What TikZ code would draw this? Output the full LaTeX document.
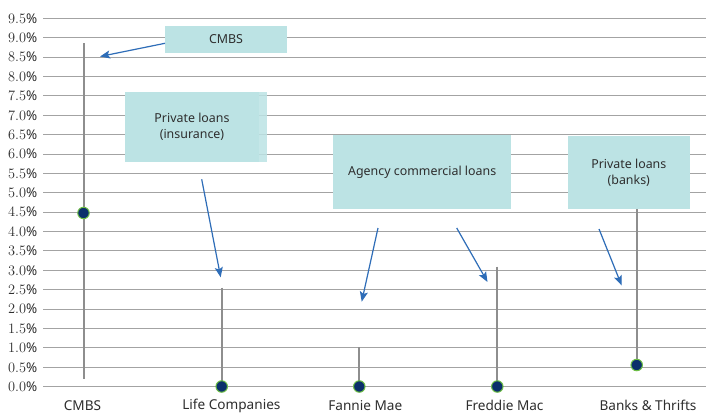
\documentclass[tikz,border=0pt]{standalone}
\usepackage{fontspec}
\setmainfont{Noto Sans}
\usetikzlibrary{arrows.meta}
\definecolor{gridc}{HTML}{A3A3A3}
\definecolor{stemc}{HTML}{8E8E8E}
\definecolor{boxc}{HTML}{BCE3E4}
\definecolor{txtc}{HTML}{2E2E2E}
\definecolor{arrc}{HTML}{2E6DB8}
\definecolor{dotc}{HTML}{0B2F6B}
\definecolor{ringc}{HTML}{6DBE45}
\tikzset{
  gridline/.style={gridc, line width=1pt},
  ylab/.style={anchor=east, inner sep=0pt, text=txtc, font=\fontsize{13.4}{15}\selectfont},
  xlab/.style={anchor=center, inner sep=0pt, text=txtc, font=\fontsize{13.6}{15}\selectfont},
  stem/.style={stemc, line width=2pt},
  dot/.style={circle, fill=dotc, draw=ringc, line width=1pt, minimum size=11.5pt, inner sep=0pt},
  callout/.style={fill=boxc, draw=none, inner sep=0pt, text=txtc, align=center, font=\fontsize{12.4}{16}\selectfont},
  pointer/.style={arrc, line width=1.2pt, -{Stealth[length=10pt,width=8pt,inset=2pt]}}
}
\begin{document}
\begin{tikzpicture}[x=1pt,y=-1pt]
\useasboundingbox (0,0) rectangle (715,415);
\fill[white] (0,0) rectangle (715,415);
% grid and y labels
\foreach \i in {0,...,19} {
  \pgfmathsetmacro\yy{386.7-\i*19.39}
  \pgfmathsetmacro\lab{\i*0.5}
  \draw[gridline] (43,\yy) -- (706,\yy);
  \node[ylab] (yl\i) at (37.5,\yy) {\pgfmathprintnumber[fixed,precision=1,fixed zerofill]{\lab}\%};
}
% x labels
\node[xlab] (xl1) at (82.5,405.5) {CMBS};
\node[xlab] (xl2) at (231.4,405.5) {Life Companies};
\node[xlab] (xl3) at (365.3,405.5) {Fannie Mae};
\node[xlab] (xl4) at (504.5,405.5) {Freddie Mac};
\node[xlab] (xl5) at (648,405.5) {Banks \& Thrifts};
% stems
\coordinate (s1t) at (83.5,43);   \coordinate (s1b) at (83.5,379);
\coordinate (s2t) at (221.7,287.7); \coordinate (s2b) at (221.7,386.7);
\coordinate (s3t) at (359.3,347.3); \coordinate (s3b) at (359.3,386.7);
\coordinate (s4t) at (497.3,266.7); \coordinate (s4b) at (497.3,386.7);
\coordinate (s5t) at (636.7,205);   \coordinate (s5b) at (636.7,365);
\draw[stem] (s1t) -- (s1b);
\draw[stem] (s2t) -- (s2b);
\draw[stem] (s3t) -- (s3b);
\draw[stem] (s4t) -- (s4b);
\draw[stem] (s5t) -- (s5b);
% dots
\node[dot] (d1) at (83.5,213) {};
\node[dot] (d2) at (221.7,386.5) {};
\node[dot] (d3) at (359.3,386.5) {};
\node[dot] (d4) at (497.3,386.5) {};
\node[dot] (d5) at (636.7,365) {};
% callout boxes
\node[callout, minimum width=122pt, minimum height=26.7pt] (bcmbs) at (226,39.3) {CMBS};
\fill[boxc, opacity=0.85] (259,91.7) rectangle (266.7,161.7);
\node[callout, minimum width=134pt, minimum height=70pt] (bins) at (192,126.7) {Private loans\\(insurance)};
\node[callout, minimum width=177.7pt, minimum height=74.3pt] (bagency) at (422.2,172.2) {Agency commercial loans};
\node[callout, minimum width=122.3pt, minimum height=73.6pt] (bbanks) at (628.8,172.5) {Private loans\\(banks)};
% arrows
\coordinate (a1s) at (165,43.3);   \coordinate (a1e) at (100,56.5);
\coordinate (a2s) at (201.7,179.3); \coordinate (a2e) at (220.7,277.3);
\coordinate (a3s) at (378,228);    \coordinate (a3e) at (361.7,301.7);
\coordinate (a4s) at (456.7,228);  \coordinate (a4e) at (487.5,282);
\coordinate (a5s) at (599,229);    \coordinate (a5e) at (621.7,285.5);
\draw[pointer] (a1s) -- (a1e);
\draw[pointer] (a2s) -- (a2e);
\draw[pointer] (a3s) -- (a3e);
\draw[pointer] (a4s) -- (a4e);
\draw[pointer] (a5s) -- (a5e);
\end{tikzpicture}
\end{document}
